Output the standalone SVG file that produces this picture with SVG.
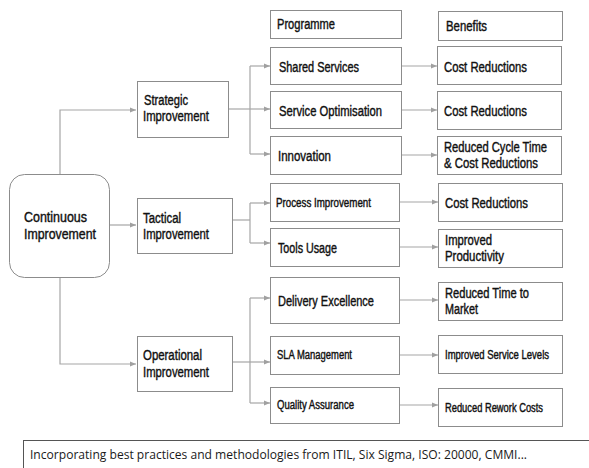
<svg xmlns="http://www.w3.org/2000/svg" width="589" height="468" viewBox="0 0 589 468">
<style>
.box{fill:#fff;stroke:#8c8c8c;stroke-width:1}
.t{font-family:"Liberation Sans",Arial,sans-serif;font-size:14px;fill:#111;stroke:#111;stroke-width:0.4}
.s{font-family:"Liberation Sans",Arial,sans-serif;font-size:12px;fill:#111;stroke:#111;stroke-width:0.4}
.c{fill:none;stroke:#a6a6a6;stroke-width:1.2}
.foot{font-family:"Open Sans","Liberation Sans",sans-serif;font-size:13px;fill:#1a1a1a}
</style>
<defs>
<marker id="ar" viewBox="0 0 6 6" refX="6" refY="3" markerWidth="6" markerHeight="6" markerUnits="userSpaceOnUse" orient="auto">
<path d="M0,0.5 L6,3 L0,5.5 Z" fill="#a0a0a0"/>
</marker>
</defs>
<rect width="589" height="468" fill="#fff"/>
<g id="connectors">
<path class="c" d="M60,174 V110 H136" marker-end="url(#ar)"/>
<path class="c" d="M110,225 H136" marker-end="url(#ar)"/>
<path class="c" d="M60,278 V364 H136" marker-end="url(#ar)"/>
<path class="c" d="M229,109 H250"/>
<path class="c" d="M250,66 V154"/>
<path class="c" d="M250,66 H270" marker-end="url(#ar)"/>
<path class="c" d="M250,109 H270" marker-end="url(#ar)"/>
<path class="c" d="M250,154 H270" marker-end="url(#ar)"/>
<path class="c" d="M233,220 H250"/>
<path class="c" d="M250,203 V243"/>
<path class="c" d="M250,203 H270" marker-end="url(#ar)"/>
<path class="c" d="M250,243 H270" marker-end="url(#ar)"/>
<path class="c" d="M233,362 H250"/>
<path class="c" d="M250,298 V403"/>
<path class="c" d="M250,298 H270" marker-end="url(#ar)"/>
<path class="c" d="M250,362 H270" marker-end="url(#ar)"/>
<path class="c" d="M250,403 H270" marker-end="url(#ar)"/>
<path class="c" d="M402,66 H437" marker-end="url(#ar)"/>
<path class="c" d="M402,110 H437" marker-end="url(#ar)"/>
<path class="c" d="M402,155 H437" marker-end="url(#ar)"/>
<path class="c" d="M400,202 H438" marker-end="url(#ar)"/>
<path class="c" d="M400,247 H438" marker-end="url(#ar)"/>
<path class="c" d="M400,300 H438" marker-end="url(#ar)"/>
<path class="c" d="M400,355 H438" marker-end="url(#ar)"/>
<path class="c" d="M400,405 H438" marker-end="url(#ar)"/>
</g>
<g id="continuous">
<rect class="box" x="9.5" y="174.5" width="100" height="103" rx="15"/>
<text class="t" x="24" y="222" textLength="63" lengthAdjust="spacingAndGlyphs">Continuous</text>
<text class="t" x="24" y="239" textLength="72" lengthAdjust="spacingAndGlyphs">Improvement</text>
</g>
<g id="strategic">
<rect class="box" x="137.5" y="81.5" width="91" height="56"/>
<text class="t" x="144" y="105" textLength="44" lengthAdjust="spacingAndGlyphs">Strategic</text>
<text class="t" x="143" y="121" textLength="66" lengthAdjust="spacingAndGlyphs">Improvement</text>
</g>
<g id="tactical">
<rect class="box" x="137.5" y="198.5" width="95" height="55"/>
<text class="t" x="143" y="223" textLength="38" lengthAdjust="spacingAndGlyphs">Tactical</text>
<text class="t" x="143" y="239" textLength="66" lengthAdjust="spacingAndGlyphs">Improvement</text>
</g>
<g id="operational">
<rect class="box" x="137.5" y="336.5" width="95" height="55"/>
<text class="t" x="143" y="360" textLength="59" lengthAdjust="spacingAndGlyphs">Operational</text>
<text class="t" x="143" y="377" textLength="66" lengthAdjust="spacingAndGlyphs">Improvement</text>
</g>
<g id="programme">
<rect class="box" x="270.5" y="10.5" width="131" height="28"/>
<text class="t" x="277" y="29" textLength="58" lengthAdjust="spacingAndGlyphs">Programme</text>
</g>
<g id="benefits">
<rect class="box" x="438.5" y="11.5" width="124" height="29"/>
<text class="t" x="446" y="31" textLength="41" lengthAdjust="spacingAndGlyphs">Benefits</text>
</g>
<g id="shared-services">
<rect class="box" x="270.5" y="47.5" width="131" height="37"/>
<text class="t" x="279" y="72" textLength="80" lengthAdjust="spacingAndGlyphs">Shared Services</text>
</g>
<g id="benefit-1">
<rect class="box" x="437.5" y="46.5" width="124" height="38"/>
<text class="t" x="444" y="72" textLength="83" lengthAdjust="spacingAndGlyphs">Cost Reductions</text>
</g>
<g id="service-optimisation">
<rect class="box" x="270.5" y="91.5" width="131" height="37"/>
<text class="t" x="279" y="116" textLength="103" lengthAdjust="spacingAndGlyphs">Service Optimisation</text>
</g>
<g id="benefit-2">
<rect class="box" x="437.5" y="91.5" width="124" height="38"/>
<text class="t" x="444" y="116" textLength="83" lengthAdjust="spacingAndGlyphs">Cost Reductions</text>
</g>
<g id="innovation">
<rect class="box" x="270.5" y="136.5" width="131" height="38"/>
<text class="t" x="278" y="161" textLength="53" lengthAdjust="spacingAndGlyphs">Innovation</text>
</g>
<g id="benefit-3">
<rect class="box" x="437.5" y="136.5" width="124" height="38"/>
<text class="t" x="444" y="152" textLength="103" lengthAdjust="spacingAndGlyphs">Reduced Cycle Time</text>
<text class="t" x="444" y="168" textLength="94" lengthAdjust="spacingAndGlyphs">&amp; Cost Reductions</text>
</g>
<g id="process-improvement">
<rect class="box" x="270.5" y="183.5" width="129" height="38"/>
<text class="s" x="276" y="207" textLength="95" lengthAdjust="spacingAndGlyphs">Process Improvement</text>
</g>
<g id="benefit-4">
<rect class="box" x="438.5" y="183.5" width="124" height="38"/>
<text class="t" x="445" y="208" textLength="83" lengthAdjust="spacingAndGlyphs">Cost Reductions</text>
</g>
<g id="tools-usage">
<rect class="box" x="270.5" y="228.5" width="129" height="38"/>
<text class="t" x="278" y="253" textLength="59" lengthAdjust="spacingAndGlyphs">Tools Usage</text>
</g>
<g id="benefit-5">
<rect class="box" x="438.5" y="229.5" width="124" height="38"/>
<text class="t" x="445" y="245" textLength="47" lengthAdjust="spacingAndGlyphs">Improved</text>
<text class="t" x="445" y="261" textLength="59" lengthAdjust="spacingAndGlyphs">Productivity</text>
</g>
<g id="delivery-excellence">
<rect class="box" x="270.5" y="277.5" width="129" height="46"/>
<text class="t" x="278" y="306" textLength="96" lengthAdjust="spacingAndGlyphs">Delivery Excellence</text>
</g>
<g id="benefit-6">
<rect class="box" x="438.5" y="282.5" width="124" height="38"/>
<text class="t" x="445" y="298" textLength="84" lengthAdjust="spacingAndGlyphs">Reduced Time to</text>
<text class="t" x="445" y="314" textLength="33" lengthAdjust="spacingAndGlyphs">Market</text>
</g>
<g id="sla-management">
<rect class="box" x="270.5" y="336.5" width="129" height="38"/>
<text class="s" x="277" y="359" textLength="75" lengthAdjust="spacingAndGlyphs">SLA Management</text>
</g>
<g id="benefit-7">
<rect class="box" x="438.5" y="335.5" width="124" height="38"/>
<text class="s" x="445" y="359" textLength="104" lengthAdjust="spacingAndGlyphs">Improved Service Levels</text>
</g>
<g id="quality-assurance">
<rect class="box" x="270.5" y="387.5" width="129" height="36"/>
<text class="s" x="277" y="409" textLength="77" lengthAdjust="spacingAndGlyphs">Quality Assurance</text>
</g>
<g id="benefit-8">
<rect class="box" x="438.5" y="388.5" width="124" height="38"/>
<text class="s" x="445" y="412" textLength="98" lengthAdjust="spacingAndGlyphs">Reduced Rework Costs</text>
</g>
<g id="footer">
<rect x="23.5" y="440.5" width="580" height="40" fill="#fff" stroke="#555" stroke-width="1"/>
<text class="foot" x="30" y="459" textLength="497" lengthAdjust="spacingAndGlyphs">Incorporating best practices and methodologies from ITIL, Six Sigma, ISO: 20000, CMMI...</text>
</g>
</svg>
